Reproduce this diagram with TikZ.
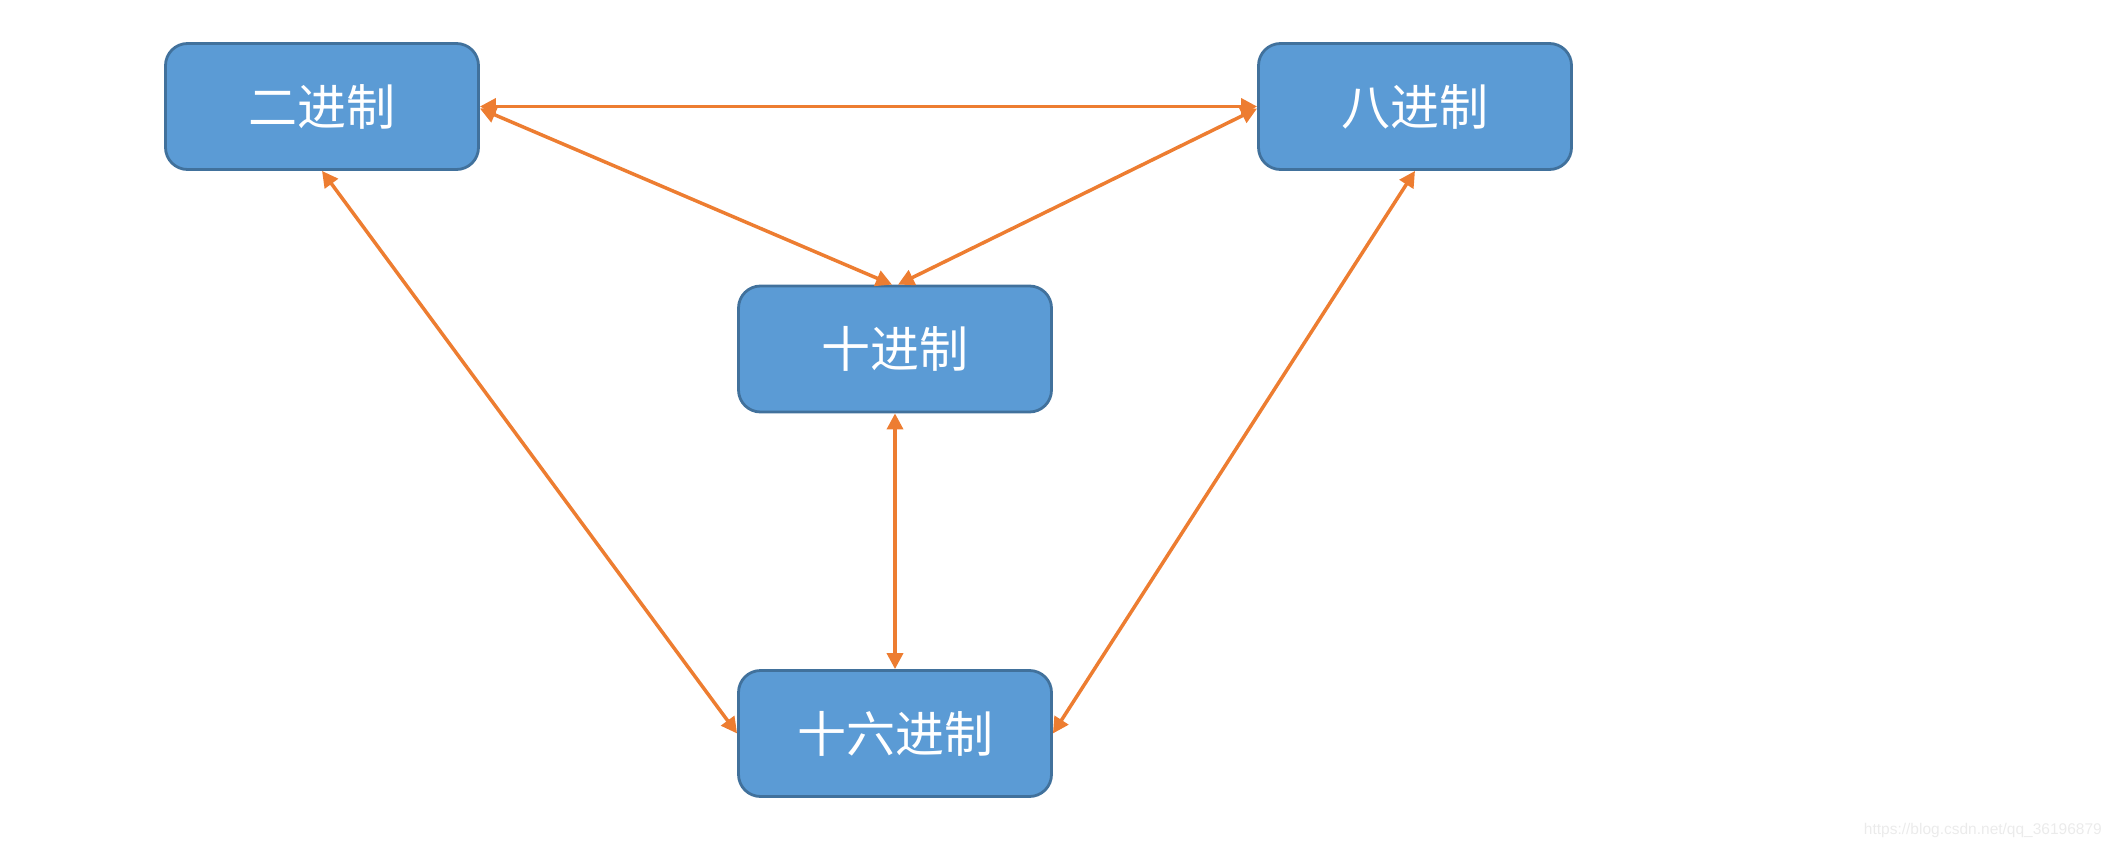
\documentclass[tikz,border=0pt]{standalone}
\usepackage{fontspec}
\newfontfamily\cjk{Noto Sans CJK SC}
\setsansfont{Liberation Sans}
\usetikzlibrary{arrows.meta}
\definecolor{boxfill}{HTML}{5B9BD5}
\definecolor{boxline}{HTML}{41719C}
\definecolor{arrowc}{HTML}{ED7D31}
\tikzset{
  basebox/.style={draw=boxline, fill=boxfill, line width=2.8pt, rounded corners=22pt,
    minimum width=313pt, minimum height=126pt, inner sep=0pt, text=white,
    font=\cjk\fontsize{49}{56}\selectfont},
  link/.style={draw=arrowc, line width=3.5pt, {Triangle[length=16pt,width=16pt]}-{Triangle[length=16pt,width=16pt]}}
}
\begin{document}
\begin{tikzpicture}[x=1pt,y=-1pt]
\useasboundingbox (0,0) rectangle (2112,848);
\node[basebox] (bin) at (322,106.5) {二进制};
\node[basebox] (oct) at (1415,106.5) {八进制};
\node[basebox] (dec) at (895,349) {十进制};
\node[basebox] (hex) at (895,733.5) {十六进制};
\draw[link] (bin.east) -- (oct.west);
\draw[link] ([yshift=-2pt]bin.east) -- ([xshift=-3pt]dec.north);
\draw[link] ([yshift=-2pt]oct.west) -- ([xshift=3pt]dec.north);
\draw[link] (bin.south) -- (hex.west);
\draw[link] (oct.south) -- (hex.east);
\draw[link] (dec.south) -- (hex.north);
\node[anchor=east, text=black!8, font=\sffamily\fontsize{15.5}{17}\selectfont, inner sep=0pt] (wm) at (2102,830) {https://blog.csdn.net/qq\_36196879};
\end{tikzpicture}
\end{document}
